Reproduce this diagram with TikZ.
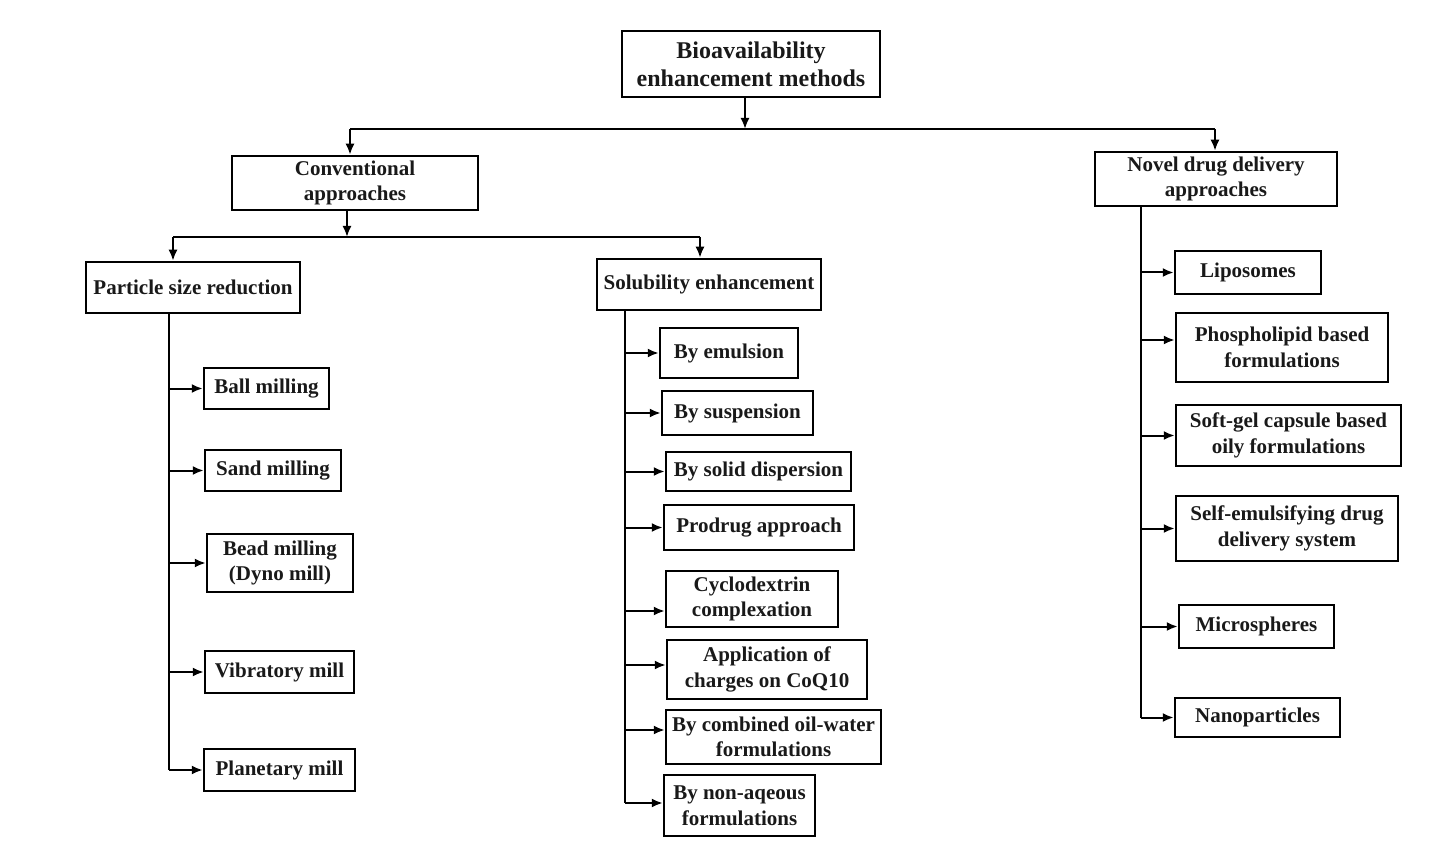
\documentclass[tikz,border=0pt]{standalone}
\usepackage{fontspec}
\setmainfont{Liberation Serif}
\usetikzlibrary{arrows.meta}
\begin{document}
\begin{tikzpicture}[x=1pt,y=-1pt,
  box/.style={draw, line width=2.5pt, inner sep=0pt, align=center, text=black!90,
    font=\fontsize{21}{25.5}\selectfont\bfseries},
  rootbox/.style={box, font=\fontsize{24}{28}\selectfont\bfseries},
  conn/.style={line width=2pt},
  arr/.style={conn, -{Latex[length=11pt,width=9pt]}}]
\useasboundingbox (0,0) rectangle (1437,850);
\newcommand\mybox[7][box]{\node[#1, minimum width=#5pt, minimum height=#6pt] (#2) at (#3,#4) {#7};}
% level 0 and 1
\mybox[rootbox]{root}{751}{64}{258}{66}{Bioavailability\\enhancement methods}
\mybox{conv}{355}{183}{246}{54}{Conventional\\approaches}
\mybox{novel}{1216}{179}{242}{54}{Novel drug delivery\\approaches}
% level 2
\mybox{psr}{193}{287.5}{214}{51}{Particle size reduction}
\mybox{sol}{709}{284.5}{224}{51}{Solubility enhancement}
% particle size reduction children
\mybox{ball}{266.5}{388.5}{125}{41}{Ball milling}
\mybox{sand}{273}{470.5}{136}{41}{Sand milling}
\mybox{bead}{280}{563}{146}{58}{Bead milling\\(Dyno mill)}
\mybox{vib}{279.5}{672}{149}{42}{Vibratory mill}
\mybox{plan}{279.5}{770}{151}{42}{Planetary mill}
% solubility children
\mybox{emul}{729}{353}{138}{50}{By emulsion}
\mybox{susp}{737.5}{413}{151}{44}{By suspension}
\mybox{solid}{758.5}{471.5}{185}{39}{By solid dispersion}
\mybox{prod}{759}{527.5}{190}{45}{Prodrug approach}
\mybox{cyclo}{752}{599}{172}{56}{Cyclodextrin\\complexation}
\mybox{appl}{767}{669.5}{200}{59}{Application of\\charges on CoQ10}
\mybox{comb}{773.5}{737}{215}{54}{By combined oil-water\\formulations}
\mybox{nonaq}{739.5}{805.5}{151}{61}{By non-aqeous\\formulations}
% novel children
\mybox{lipo}{1248}{272.5}{146}{43}{Liposomes}
\mybox{phos}{1282}{347.5}{212}{69}{Phospholipid based\\formulations}
\mybox{soft}{1288.5}{435.5}{225}{61}{Soft-gel capsule based\\oily formulations}
\mybox{self}{1287}{528.5}{222}{65}{Self-emulsifying drug\\delivery system}
\mybox{micro}{1256.5}{626.5}{155}{43}{Microspheres}
\mybox{nano}{1257.5}{717.5}{165}{39}{Nanoparticles}
% junction coordinates
\coordinate (j0) at (745,129);
\coordinate (j0L) at (350,129);
\coordinate (j0R) at (1215,129);
\coordinate (j1) at (347,237);
\coordinate (j1L) at (173,237);
\coordinate (j1R) at (700,237);
\coordinate (sp1) at (169,0);
\coordinate (sp2) at (625,0);
\coordinate (sp3) at (1141,0);
% top level connectors
\draw[arr] (root.south -| j0) -- (j0);
\draw[conn] (j0L) -- (j0R);
\draw[arr] (j0L) -- (j0L |- conv.north);
\draw[arr] (j0R) -- (j0R |- novel.north);
\draw[arr] (conv.south -| j1) -- (j1);
\draw[conn] (j1L) -- (j1R);
\draw[arr] (j1L) -- (j1L |- psr.north);
\draw[arr] (j1R) -- (j1R |- sol.north);
% spines
\draw[conn] (psr.south -| sp1) -- (plan.west -| sp1);
\draw[conn] (sol.south -| sp2) -- ([yshift=2.5pt]nonaq.west -| sp2);
\draw[conn] (novel.south -| sp3) -- (nano.west -| sp3);
% branches
\foreach \n in {ball,sand,bead,vib,plan}{\draw[arr] (\n.west -| sp1) -- (\n.west);}
\foreach \n/\d in {emul/0,susp/0,solid/0,prod/0,cyclo/-12,appl/4.5,comb/7,nonaq/2.5}{\draw[arr] ([yshift=\d pt]\n.west -| sp2) -- ([yshift=\d pt]\n.west);}
\foreach \n/\d in {lipo/0,phos/7.5,soft/0,self/0,micro/0,nano/0}{\draw[arr] ([yshift=\d pt]\n.west -| sp3) -- ([yshift=\d pt]\n.west);}
\end{tikzpicture}
\end{document}
